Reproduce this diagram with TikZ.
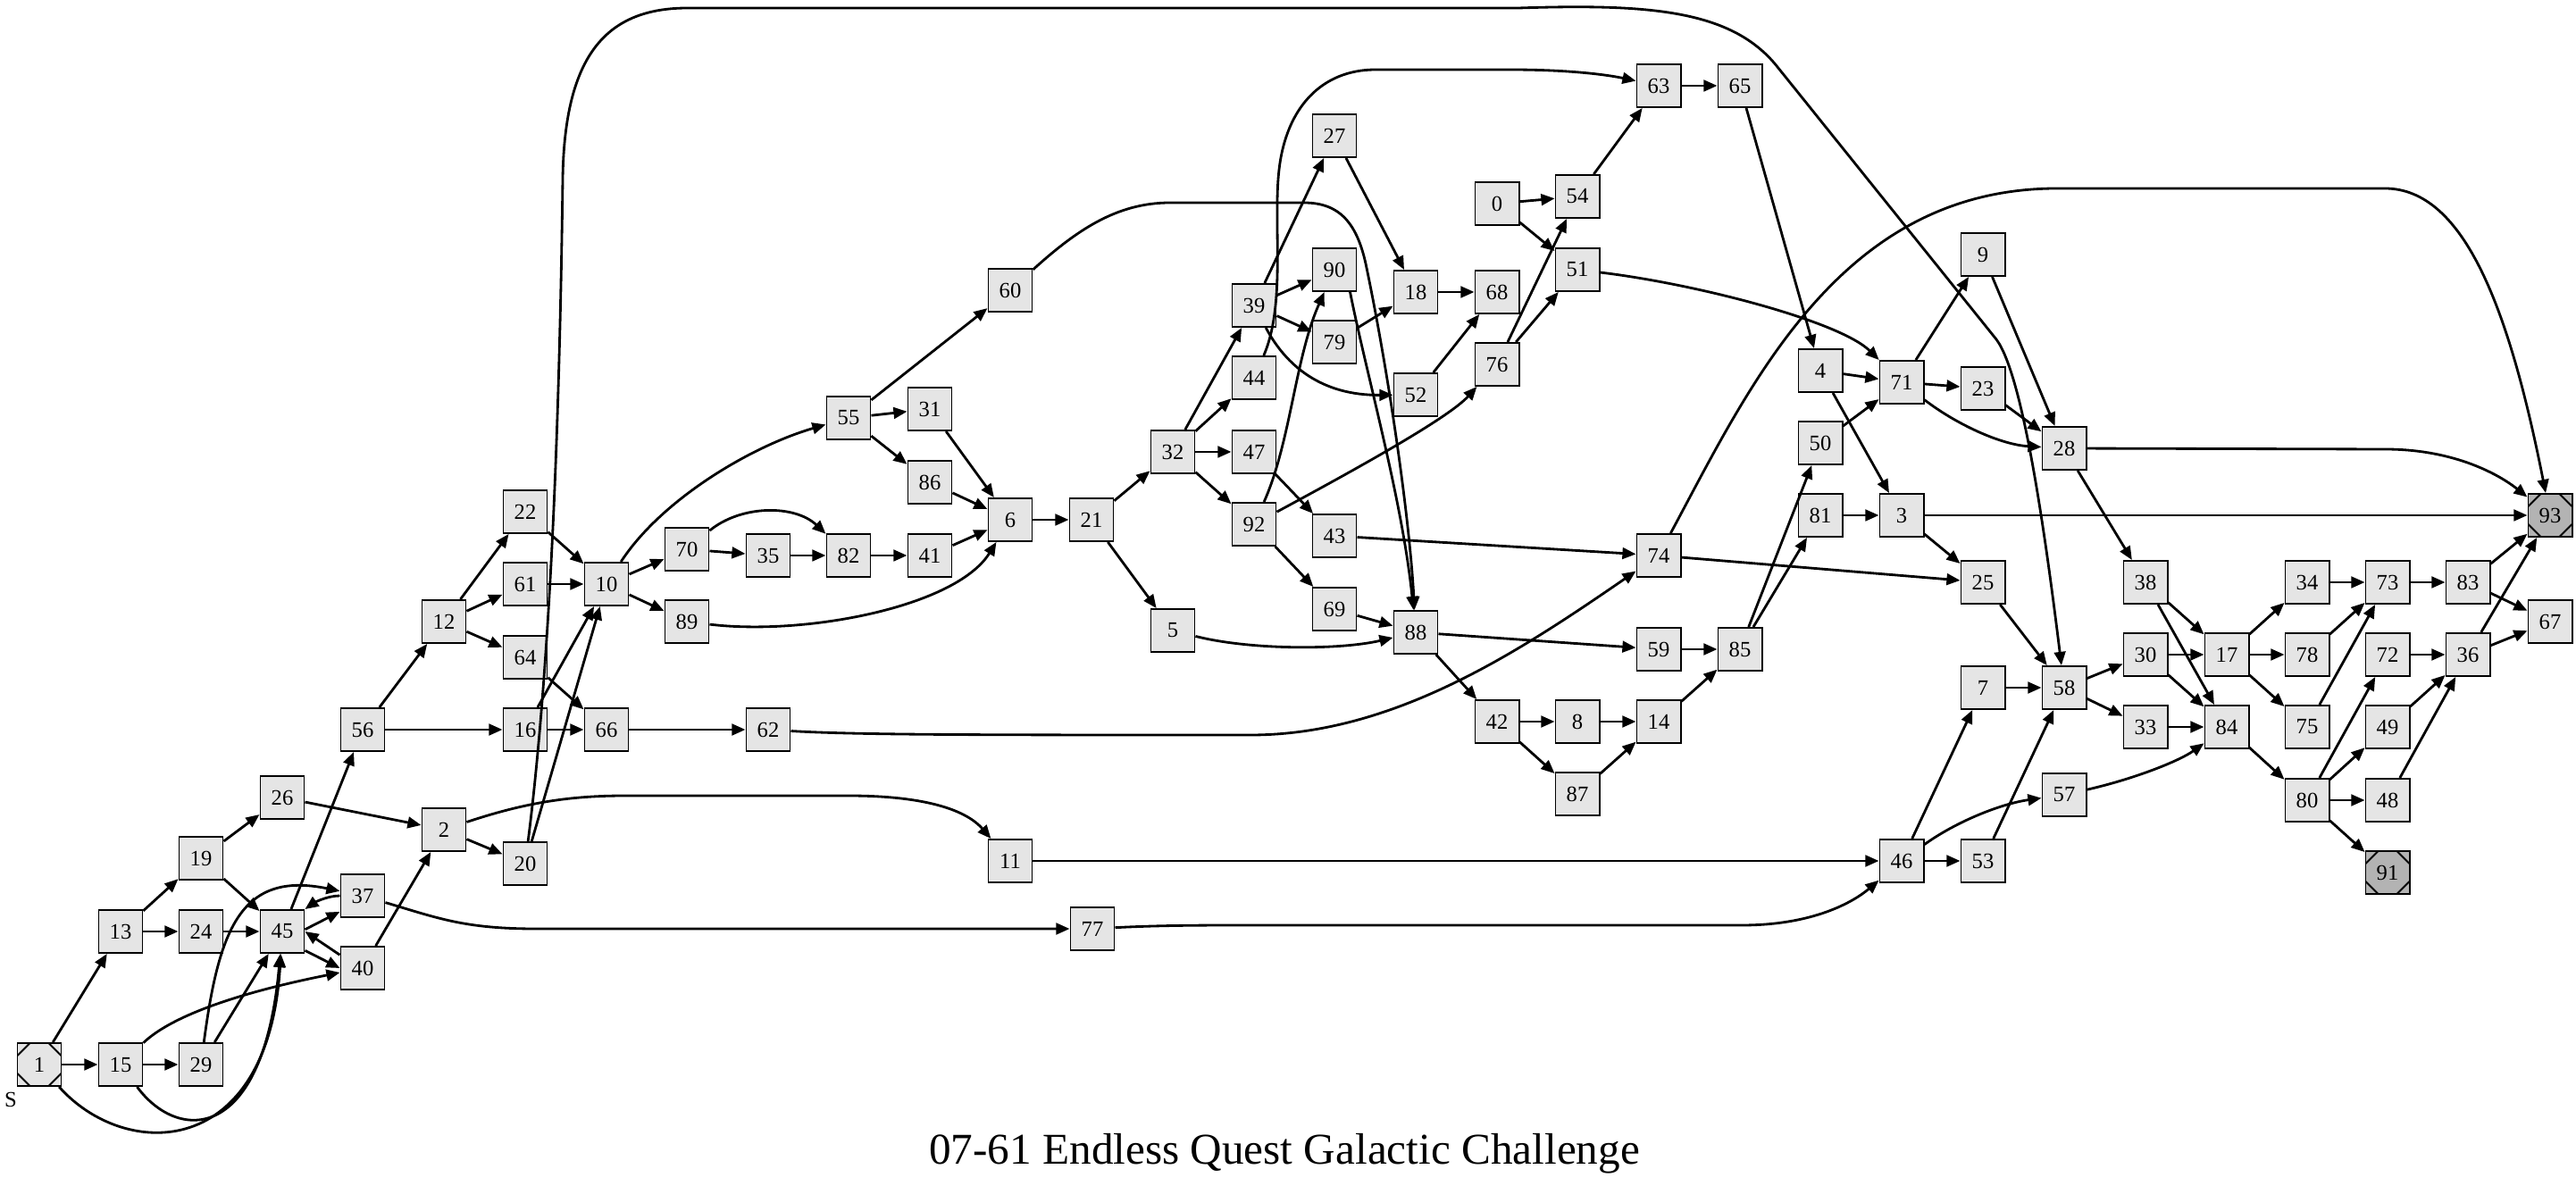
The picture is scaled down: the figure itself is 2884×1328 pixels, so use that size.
\documentclass[tikz,border=0pt]{standalone}
\usepackage{fontspec}
\setmainfont{Liberation Serif}
\usepackage{tikz}
\usetikzlibrary{arrows.meta}
\definecolor{pgfill}{RGB}{229,229,229}
\definecolor{pgend}{RGB}{179,179,179}
\tikzstyle{pg} = [draw, line width=0.55pt, fill=pgfill, minimum width=0.49cm, minimum height=0.48cm, inner sep=0pt, font=\fontsize{7}{8}\selectfont]
\tikzstyle{oct} = [path picture={
    \draw[line width=0.55pt] ([xshift=0.14cm]path picture bounding box.north west) -- ([yshift=-0.14cm]path picture bounding box.north west);
    \draw[line width=0.55pt] ([xshift=-0.14cm]path picture bounding box.north east) -- ([yshift=-0.14cm]path picture bounding box.north east);
    \draw[line width=0.55pt] ([xshift=0.14cm]path picture bounding box.south west) -- ([yshift=0.14cm]path picture bounding box.south west);
    \draw[line width=0.55pt] ([xshift=-0.14cm]path picture bounding box.south east) -- ([yshift=0.14cm]path picture bounding box.south east);
}]
\tikzstyle{startpg} = [pg, oct]
\tikzstyle{endpg} = [pg, oct, fill=pgend]
\tikzstyle{arrow} = [line width=0.8pt, -{Triangle[length=4.3pt,width=3.6pt]}]

\begin{document}
\begin{tikzpicture}[x=0.01cm, y=-0.01cm]
    \useasboundingbox (0,0) rectangle (2884,1328);

    % Sections
    \node[startpg] (n1) at (44,1192) {1};
    \node[pg] (n13) at (135,1043) {13};
    \node[pg] (n15) at (135,1192) {15};
    \node[pg] (n19) at (225,961) {19};
    \node[pg] (n24) at (225,1043) {24};
    \node[pg] (n29) at (225,1192) {29};
    \node[pg] (n26) at (316,893) {26};
    \node[pg] (n45) at (316,1043) {45};
    \node[pg] (n56) at (406,817) {56};
    \node[pg] (n37) at (406,1003) {37};
    \node[pg] (n40) at (406,1084) {40};
    \node[pg] (n12) at (497,696) {12};
    \node[pg] (n2) at (497,929) {2};
    \node[pg] (n22) at (588,573) {22};
    \node[pg] (n61) at (588,654) {61};
    \node[pg] (n64) at (588,736) {64};
    \node[pg] (n16) at (588,817) {16};
    \node[pg] (n20) at (588,967) {20};
    \node[pg] (n10) at (679,654) {10};
    \node[pg] (n66) at (679,817) {66};
    \node[pg] (n70) at (769,615) {70};
    \node[pg] (n89) at (769,696) {89};
    \node[pg] (n35) at (860,622) {35};
    \node[pg] (n62) at (860,817) {62};
    \node[pg] (n55) at (950,468) {55};
    \node[pg] (n82) at (950,622) {82};
    \node[pg] (n31) at (1041,458) {31};
    \node[pg] (n86) at (1041,540) {86};
    \node[pg] (n41) at (1041,622) {41};
    \node[pg] (n60) at (1131,325) {60};
    \node[pg] (n6) at (1131,582) {6};
    \node[pg] (n11) at (1131,964) {11};
    \node[pg] (n21) at (1222,582) {21};
    \node[pg] (n77) at (1223,1040) {77};
    \node[pg] (n32) at (1313,506) {32};
    \node[pg] (n5) at (1313,706) {5};
    \node[pg] (n39) at (1404,342) {39};
    \node[pg] (n44) at (1404,423) {44};
    \node[pg] (n47) at (1404,506) {47};
    \node[pg] (n92) at (1404,587) {92};
    \node[pg] (n27) at (1494,152) {27};
    \node[pg] (n90) at (1494,302) {90};
    \node[pg] (n79) at (1494,383) {79};
    \node[pg] (n43) at (1494,600) {43};
    \node[pg] (n69) at (1494,682) {69};
    \node[pg] (n18) at (1585,327) {18};
    \node[pg] (n52) at (1585,442) {52};
    \node[pg] (n88) at (1585,708) {88};
    \node[pg] (n0) at (1676,228) {0};
    \node[pg] (n68) at (1676,327) {68};
    \node[pg] (n76) at (1676,408) {76};
    \node[pg] (n42) at (1676,808) {42};
    \node[pg] (n54) at (1766,220) {54};
    \node[pg] (n51) at (1766,302) {51};
    \node[pg] (n8) at (1766,808) {8};
    \node[pg] (n87) at (1766,889) {87};
    \node[pg] (n63) at (1857,96) {63};
    \node[pg] (n74) at (1857,622) {74};
    \node[pg] (n59) at (1857,727) {59};
    \node[pg] (n14) at (1857,808) {14};
    \node[pg] (n65) at (1948,96) {65};
    \node[pg] (n85) at (1948,727) {85};
    \node[pg] (n4) at (2038,415) {4};
    \node[pg] (n50) at (2038,496) {50};
    \node[pg] (n81) at (2038,577) {81};
    \node[pg] (n71) at (2129,428) {71};
    \node[pg] (n3) at (2129,577) {3};
    \node[pg] (n46) at (2129,964) {46};
    \node[pg] (n9) at (2220,285) {9};
    \node[pg] (n23) at (2220,435) {23};
    \node[pg] (n25) at (2220,652) {25};
    \node[pg] (n7) at (2220,770) {7};
    \node[pg] (n53) at (2220,964) {53};
    \node[pg] (n28) at (2311,502) {28};
    \node[pg] (n58) at (2311,770) {58};
    \node[pg] (n57) at (2311,890) {57};
    \node[pg] (n38) at (2402,652) {38};
    \node[pg] (n30) at (2402,733) {30};
    \node[pg] (n33) at (2402,814) {33};
    \node[pg] (n17) at (2493,733) {17};
    \node[pg] (n84) at (2493,814) {84};
    \node[pg] (n34) at (2583,652) {34};
    \node[pg] (n78) at (2583,733) {78};
    \node[pg] (n75) at (2583,814) {75};
    \node[pg] (n80) at (2583,896) {80};
    \node[pg] (n73) at (2673,652) {73};
    \node[pg] (n72) at (2673,733) {72};
    \node[pg] (n49) at (2673,814) {49};
    \node[pg] (n48) at (2673,896) {48};
    \node[endpg] (n91) at (2673,977) {91};
    \node[pg] (n83) at (2763,652) {83};
    \node[pg] (n36) at (2763,733) {36};
    \node[endpg] (n93) at (2855,577) {93};
    \node[pg] (n67) at (2855,696) {67};

    % Start label and title
    \node[font=\fontsize{7}{8}\selectfont] (slabel) at (12,1231) {S};
    \node[font=\fontsize{14}{16}\selectfont] (title) at (1438,1292) {07-61 Endless Quest Galactic Challenge};

    % Straight links
    \draw[arrow] (n1) -- (n13);
    \draw[arrow] (n1) -- (n15);
    \draw[arrow] (n13) -- (n19);
    \draw[arrow] (n13) -- (n24);
    \draw[arrow] (n15) -- (n29);
    \draw[arrow] (n19) -- (n26);
    \draw[arrow] (n19) -- (n45);
    \draw[arrow] (n24) -- (n45);
    \draw[arrow] (n29) -- (n45);
    \draw[arrow] (n26) -- (n2);
    \draw[arrow] (n40) -- (n2);
    \draw[arrow] (n2) -- (n20);
    \draw[arrow] (n45) -- (n56);
    \draw[arrow] (n56) -- (n12);
    \draw[arrow] (n56) -- (n16);
    \draw[arrow] (n12) -- (n22);
    \draw[arrow] (n12) -- (n61);
    \draw[arrow] (n12) -- (n64);
    \draw[arrow] (n22) -- (n10);
    \draw[arrow] (n61) -- (n10);
    \draw[arrow] (n64) -- (n66);
    \draw[arrow] (n16) -- (n66);
    \draw[arrow] (n16) -- (n10);
    \draw[arrow] (n20) -- (n10);
    \draw[arrow] (n10) -- (n70);
    \draw[arrow] (n10) -- (n89);
    \draw[arrow] (n66) -- (n62);
    \draw[arrow] (n70) -- (n35);
    \draw[arrow] (n35) -- (n82);
    \draw[arrow] (n82) -- (n41);
    \draw[arrow] (n41) -- (n6);
    \draw[arrow] (n55) -- (n31);
    \draw[arrow] (n55) -- (n86);
    \draw[arrow] (n55) -- (n60);
    \draw[arrow] (n31) -- (n6);
    \draw[arrow] (n86) -- (n6);
    \draw[arrow] (n6) -- (n21);
    \draw[arrow] (n21) -- (n32);
    \draw[arrow] (n21) -- (n5);
    \draw[arrow] (n32) -- (n39);
    \draw[arrow] (n32) -- (n44);
    \draw[arrow] (n32) -- (n47);
    \draw[arrow] (n32) -- (n92);
    \draw[arrow] (n47) -- (n43);
    \draw[arrow] (n92) -- (n69);
    \draw[arrow] (n69) -- (n88);
    \draw[arrow] (n39) -- (n90);
    \draw[arrow] (n39) -- (n79);
    \draw[arrow] (n39) -- (n27);
    \draw[arrow] (n27) -- (n18);
    \draw[arrow] (n79) -- (n18);
    \draw[arrow] (n18) -- (n68);
    \draw[arrow] (n52) -- (n68);
    \draw[arrow] (n76) -- (n54);
    \draw[arrow] (n76) -- (n51);
    \draw[arrow] (n0) -- (n54);
    \draw[arrow] (n0) -- (n51);
    \draw[arrow] (n54) -- (n63);
    \draw[arrow] (n63) -- (n65);
    \draw[arrow] (n65) -- (n4);
    \draw[arrow] (n43) -- (n74);
    \draw[arrow] (n88) -- (n59);
    \draw[arrow] (n88) -- (n42);
    \draw[arrow] (n59) -- (n85);
    \draw[arrow] (n42) -- (n8);
    \draw[arrow] (n42) -- (n87);
    \draw[arrow] (n8) -- (n14);
    \draw[arrow] (n87) -- (n14);
    \draw[arrow] (n14) -- (n85);
    \draw[arrow] (n85) -- (n50);
    \draw[arrow] (n85) -- (n81);
    \draw[arrow] (n74) -- (n25);
    \draw[arrow] (n4) -- (n71);
    \draw[arrow] (n4) -- (n3);
    \draw[arrow] (n50) -- (n71);
    \draw[arrow] (n81) -- (n3);
    \draw[arrow] (n71) -- (n9);
    \draw[arrow] (n71) -- (n23);
    \draw[arrow] (n9) -- (n28);
    \draw[arrow] (n23) -- (n28);
    \draw[arrow] (n3) -- (n93);
    \draw[arrow] (n3) -- (n25);
    \draw[arrow] (n25) -- (n58);
    \draw[arrow] (n28) -- (n38);
    \draw[arrow] (n7) -- (n58);
    \draw[arrow] (n46) -- (n7);
    \draw[arrow] (n46) -- (n53);
    \draw[arrow] (n53) -- (n58);
    \draw[arrow] (n58) -- (n30);
    \draw[arrow] (n58) -- (n33);
    \draw[arrow] (n11) -- (n46);
    \draw[arrow] (n38) -- (n17);
    \draw[arrow] (n38) -- (n84);
    \draw[arrow] (n30) -- (n17);
    \draw[arrow] (n30) -- (n84);
    \draw[arrow] (n33) -- (n84);
    \draw[arrow] (n17) -- (n34);
    \draw[arrow] (n17) -- (n78);
    \draw[arrow] (n17) -- (n75);
    \draw[arrow] (n34) -- (n73);
    \draw[arrow] (n78) -- (n73);
    \draw[arrow] (n75) -- (n73);
    \draw[arrow] (n73) -- (n83);
    \draw[arrow] (n83) -- (n93);
    \draw[arrow] (n83) -- (n67);
    \draw[arrow] (n84) -- (n80);
    \draw[arrow] (n80) -- (n72);
    \draw[arrow] (n80) -- (n49);
    \draw[arrow] (n80) -- (n48);
    \draw[arrow] (n80) -- (n91);
    \draw[arrow] (n72) -- (n36);
    \draw[arrow] (n49) -- (n36);
    \draw[arrow] (n48) -- (n36);
    \draw[arrow] (n36) -- (n67);
    \draw[arrow] (n36) -- (n93);

    % Loops around 45
    \draw[arrow] (n37.west) .. controls (365,1003) and (350,1012) .. (n45.north east);
    \draw[arrow] (n45.5) -- (n37.215);
    \draw[arrow] (n40.150) -- (n45.east);
    \draw[arrow] (n45.-40) -- (n40.west);

    % Curved links
    \draw[arrow] (n1) .. controls (140,1300) and (300,1300) .. (n45);
    \draw[arrow] (n15) .. controls (200,1280) and (295,1280) .. (n45);
    \draw[arrow] (n15) .. controls (200,1130) and (300,1105) .. (n40);
    \draw[arrow] (n29) .. controls (245,1040) and (270,975) .. (n37);
    \draw[arrow] (n37) .. controls (490,1028) and (520,1040) .. (600,1040) -- (n77);
    \draw[arrow] (n2) .. controls (590,898) and (640,891) .. (700,891) -- (950,891) .. controls (1030,891) and (1080,905) .. (n11);
    \draw[arrow] (n10) .. controls (740,560) and (840,500) .. (n55);
    \draw[arrow] (n70) .. controls (830,565) and (890,565) .. (n82);
    \draw[arrow] (n89) .. controls (900,712) and (1070,680) .. (n6);
    \draw[arrow] (n60) .. controls (1205,258) and (1250,227) .. (1310,227) -- (1460,227) .. controls (1500,227) and (1520,250) .. (1530,300) .. controls (1555,420) and (1578,580) .. (n88);
    \draw[arrow] (n90.-55) .. controls (1530,420) and (1570,560) .. (n88);
    \draw[arrow] (n44) .. controls (1440,340) and (1425,250) .. (1432,190) .. controls (1440,120) and (1480,78) .. (1540,78) -- (1690,78) .. controls (1770,78) and (1810,86) .. (n63);
    \draw[arrow] (n39) .. controls (1440,410) and (1480,443) .. (n52);
    \draw[arrow] (n92) .. controls (1445,495) and (1450,400) .. (n90);
    \draw[arrow] (n92) .. controls (1500,535) and (1620,470) .. (n76);
    \draw[arrow] (n5) .. controls (1400,728) and (1500,728) .. (n88);
    \draw[arrow] (n62) .. controls (960,823) and (1100,823) .. (1400,823) .. controls (1560,823) and (1700,730) .. (n74);
    \draw[arrow] (n74) .. controls (1960,430) and (2060,213) .. (2300,211) -- (2670,211) .. controls (2760,211) and (2810,350) .. (n93);
    \draw[arrow] (n28) -- (2670,503) .. controls (2750,503) and (2800,533) .. (n93);
    \draw[arrow] (n71) .. controls (2190,475) and (2240,498) .. (n28);
    \draw[arrow] (n51) .. controls (1900,318) and (2060,360) .. (n71);
    \draw[arrow] (n20) .. controls (622,700) and (628,350) .. (630,200) .. controls (632,60) and (680,9) .. (770,9) -- (1700,9) .. controls (1850,4) and (1940,12) .. (1990,75) -- (2235,380) .. controls (2265,420) and (2290,600) .. (n58);
    \draw[arrow] (n46) .. controls (2190,920) and (2240,900) .. (n57);
    \draw[arrow] (n57) .. controls (2390,872) and (2440,852) .. (n84);
    \draw[arrow] (n77) .. controls (1300,1036) and (1350,1036) .. (1400,1036) -- (1950,1036) .. controls (2030,1036) and (2075,1010) .. (n46);
\end{tikzpicture}
\end{document}
